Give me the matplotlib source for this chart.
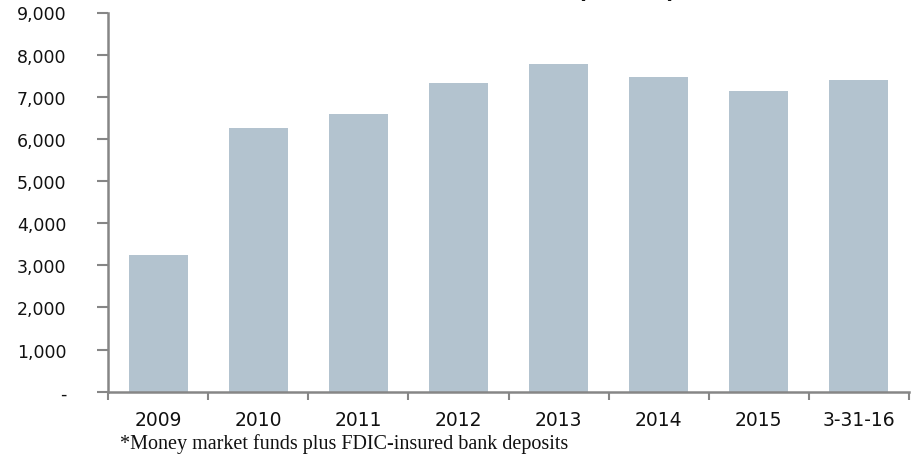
"""
Total cash holdings bar chart (money market funds plus FDIC-insured deposits)
"""
import matplotlib
matplotlib.use("Agg")
import matplotlib.pyplot as plt
from matplotlib.ticker import FuncFormatter, FixedLocator

# Data ($ billions)
categories = ["2009", "2010", "2011", "2012", "2013", "2014", "2015", "3-31-16"]
values = [3250, 6250, 6600, 7330, 7780, 7480, 7140, 7400]
y_ticks = [0, 1000, 2000, 3000, 4000, 5000, 6000, 7000, 8000, 9000]

title_text = "Total Cash Assets* (Billion)"
footnote = "*Money market funds plus FDIC-insured bank deposits"

BAR_COLOR = "#b3c3cf"
AXIS_COLOR = "#868686"
TEXT_COLOR = "#111111"


def fmt_thousands(v, pos):
    # Excel-style accounting format: zero is shown as a dash
    if v == 0:
        return "-"
    return f"{v:,.0f}"


def main():
    fig = plt.figure(figsize=(9.16, 4.60), dpi=100)
    ax = fig.add_axes([108 / 916, 1 - 392.7 / 460, 801 / 916, 379.2 / 460])

    x = range(len(categories))
    ax.bar(x, values, width=0.59, color=BAR_COLOR, zorder=2)

    ax.set_xlim(-0.5, len(categories) - 0.5)
    ax.set_ylim(0, 9000)

    # Y axis
    ax.set_yticks(y_ticks)
    ax.yaxis.set_major_formatter(FuncFormatter(fmt_thousands))
    ax.tick_params(axis="y", direction="out", length=8, width=1.5,
                   color=AXIS_COLOR, pad=22, labelsize=12.5,
                   labelcolor=TEXT_COLOR)

    # X axis: ticks at category boundaries, labels at centres
    ax.xaxis.set_major_locator(FixedLocator([i - 0.5 for i in range(len(categories) + 1)]))
    ax.set_xticklabels([])
    ax.set_xticks(list(x), minor=True)
    ax.set_xticklabels(categories, minor=True)
    ax.tick_params(axis="x", which="major", direction="out", length=6,
                   width=1.5, color=AXIS_COLOR)
    ax.tick_params(axis="x", which="minor", length=0, pad=13,
                   labelsize=13.5, labelcolor=TEXT_COLOR)

    for side in ["top", "right"]:
        ax.spines[side].set_visible(False)
    for side in ["left", "bottom"]:
        ax.spines[side].set_color(AXIS_COLOR)
        ax.spines[side].set_linewidth(1.8)
        ax.spines[side].set_zorder(3)

    # Title sits above the crop, only the bottoms of the brackets show
    fig.text(676 / 916, 1 + 2.5 / 460, title_text, ha="right", va="baseline",
             fontsize=16, fontweight="bold", color=TEXT_COLOR)

    fig.text(120 / 916, 1 - 444 / 460, footnote, ha="left", va="center",
             fontsize=14.5, family=["Liberation Serif", "DejaVu Serif"],
             color=TEXT_COLOR)

    fig.savefig("out.png", dpi=100)


if __name__ == "__main__":
    main()
